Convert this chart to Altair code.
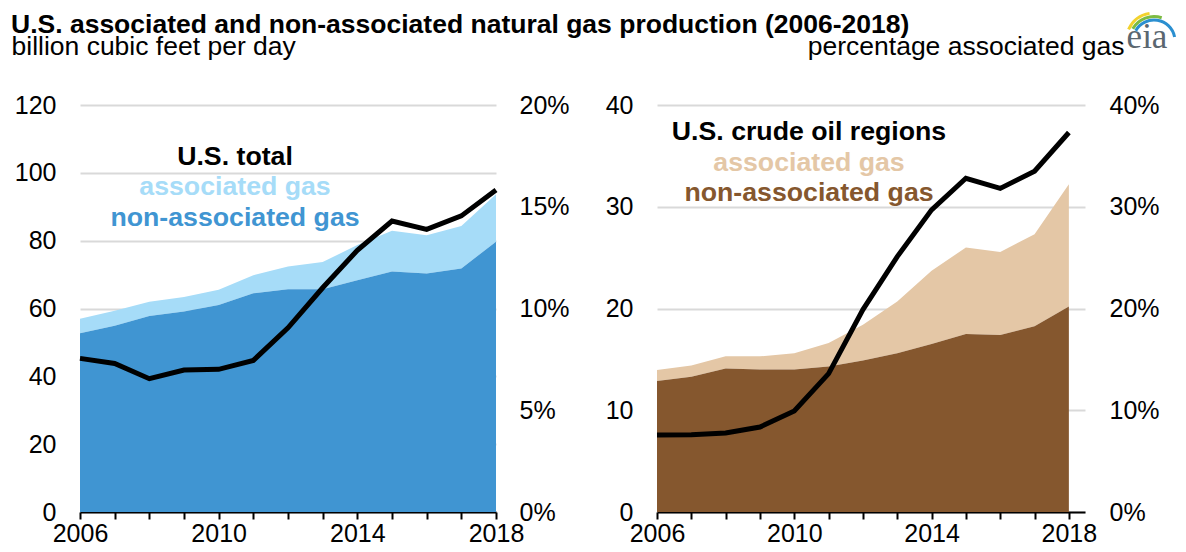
import math
import altair as alt
import pandas as pd

FONT = "Liberation Sans"

years = list(range(2006, 2019))

# U.S. total (billion cubic feet per day)
us_non_assoc = [52.7, 54.9, 57.8, 59.1, 61.0, 64.5, 65.7, 65.7, 68.3, 70.9, 70.3, 71.8, 79.7]
us_assoc = [4.3, 4.4, 4.2, 4.3, 4.5, 5.3, 6.7, 8.0, 10.4, 12.0, 11.3, 12.5, 14.0]
us_pct = [7.55, 7.3, 6.55, 6.98, 7.01, 7.45, 9.05, 11.02, 12.86, 14.3, 13.89, 14.55, 15.82]

# U.S. crude oil regions
oil_non_assoc = [12.87, 13.3, 14.1, 14.0, 14.0, 14.3, 14.9, 15.6, 16.5, 17.5, 17.4, 18.25, 20.2]
oil_assoc = [1.09, 1.1, 1.2, 1.3, 1.6, 2.3, 3.5, 5.1, 7.2, 8.5, 8.15, 9.05, 12.0]
oil_pct = [7.57, 7.6, 7.76, 8.35, 9.93, 13.6, 19.9, 25.1, 29.7, 32.8, 31.8, 33.5, 37.3]

left_ticks = [0, 20, 40, 60, 80, 100, 120]
left_pct_ticks = [0, 5, 10, 15, 20]
right_ticks = [0, 10, 20, 30, 40]
right_pct_ticks = [0, 10, 20, 30, 40]

one = pd.DataFrame({"k": [0]})
TAU = 2 * math.pi
SUB = 26.5


def panel(non, assoc, pct, ticks, pticks, width, xmax, c_non, c_assoc, labels,
          label_x, label_ys, left_title=None, right_title=None, right_pad=23, logo=False):
    df = pd.DataFrame({"year": years, "non": non, "assoc": assoc, "pct": pct})
    base = alt.Chart(df).transform_calculate(total="datum.non + datum.assoc")

    x = alt.X(
        "year:Q",
        title=None,
        scale=alt.Scale(domain=[2006, xmax], nice=False, zero=False),
        axis=alt.Axis(
            values=years,
            labelExpr="(datum.value - 2006) % 4 == 0 ? datum.value : ''",
            domainColor="black", domainWidth=2, tickColor="black", tickWidth=2,
            tickSize=7, labelFontSize=25, labelPadding=2, labelColor="black",
            labelFont=FONT, grid=False, labelFlush=False, labelOverlap=False,
        ),
    )
    yaxis_kw = dict(
        values=ticks, grid=True, gridColor="#d9d9d9", gridWidth=2, domain=False,
        ticks=False, labelPadding=24, labelFontSize=25, labelColor="black", labelFont=FONT,
    )
    if left_title:
        yaxis_kw.update(title=left_title, titleAngle=0, titleAlign="left",
                        titleBaseline="alphabetic", titleX=-69, titleY=-51,
                        titleFontSize=SUB, titleFontWeight="normal", titleFont=FONT,
                        titleColor="black")
    else:
        yaxis_kw.update(title=None)
    yscale = alt.Scale(domain=[ticks[0], ticks[-1]], nice=False)

    area_assoc = base.mark_area(color=c_assoc).encode(
        x=x,
        y=alt.Y("total:Q", scale=yscale, axis=alt.Axis(**yaxis_kw)),
        y2=alt.Y2("non:Q"),
    )
    area_non = base.mark_area(color=c_non).encode(
        x=x,
        y=alt.Y("non:Q", scale=yscale, axis=alt.Axis(**yaxis_kw)),
    )

    paxis_kw = dict(
        orient="right", values=pticks, grid=False, domain=False, ticks=False,
        labelPadding=right_pad, labelFontSize=25, labelColor="black", labelFont=FONT,
        labelExpr="datum.value + '%'",
    )
    if right_title:
        paxis_kw.update(title=right_title, titleAngle=0, titleAlign="right",
                        titleBaseline="alphabetic", titleX=39, titleY=-51,
                        titleFontSize=SUB, titleFontWeight="normal", titleFont=FONT,
                        titleColor="black")
    else:
        paxis_kw.update(title=None)
    line = base.mark_line(color="black", strokeWidth=5, strokeJoin="miter").encode(
        x=x,
        y=alt.Y("pct:Q", scale=alt.Scale(domain=[pticks[0], pticks[-1]], nice=False),
                axis=alt.Axis(**paxis_kw)),
    )

    texts = []
    for (txt, col), ly in zip(labels, label_ys):
        texts.append(
            alt.Chart(one).mark_text(
                text=txt, color=col, font=FONT, fontSize=26.7, fontWeight="bold",
                align="center", baseline="alphabetic",
            ).encode(x=alt.value(label_x), y=alt.value(ly))
        )

    extras = []
    if logo:
        extras.append(
            alt.Chart(one).mark_text(
                text="eia", color="#5b6770", font="Liberation Serif", fontSize=35,
                align="center", baseline="alphabetic",
            ).encode(x=alt.value(490), y=alt.value(-57))
        )
        for col, r, t1, t2 in [("#f2d22e", 28, -1.14, -0.16),
                               ("#7dbb42", 24.5, -1.05, 0.32),
                               ("#2b8fd0", 21, -1.06, 1.38)]:
            extras.append(
                alt.Chart(one).mark_arc(color=col, radius=r + 1.5, radius2=r - 1.5,
                                        theta=TAU + t1, theta2=TAU + t2).encode(
                    x=alt.value(497), y=alt.value(-64)
                )
            )

    inner = alt.layer(area_assoc, area_non)
    return alt.layer(inner, line, *texts, *extras).resolve_scale(y="independent").properties(
        width=width, height=407
    )


p1 = panel(
    us_non_assoc, us_assoc, us_pct, left_ticks, left_pct_ticks, 416, 2018,
    "#4095d2", "#a6dcf8",
    [("U.S. total", "black"), ("associated gas", "#a6dcf8"), ("non-associated gas", "#4095d2")],
    155, [60, 90, 121],
    left_title="billion cubic feet per day", right_pad=23,
)
p2 = panel(
    oil_non_assoc, oil_assoc, oil_pct, right_ticks, right_pct_ticks, 428, 2018.47,
    "#85572e", "#e4c7a6",
    [("U.S. crude oil regions", "black"), ("associated gas", "#e4c7a6"), ("non-associated gas", "#85572e")],
    152, [35, 66, 96],
    right_title="percentage associated gas", right_pad=24, logo=True,
)

chart = alt.hconcat(p1, p2, spacing=161, bounds="flush").properties(
    title=alt.TitleParams(
        "U.S. associated and non-associated natural gas production (2006-2018)",
        anchor="start", fontSize=26.5, fontWeight="bold", font=FONT, color="black",
        offset=-27,
    ),
    padding={"left": 3, "top": 3, "right": 0, "bottom": 0},
).configure_view(stroke=None)

chart.save("out.html", embed_options={"renderer": "svg", "actions": False})
